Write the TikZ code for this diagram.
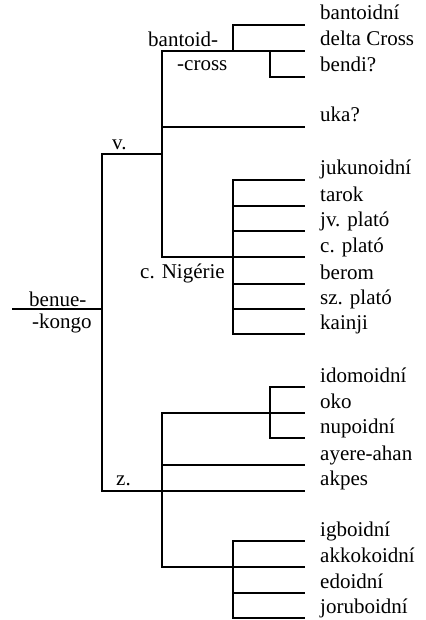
\documentclass[tikz,border=0pt]{standalone}
\usepackage{fontspec}
\setmainfont{Liberation Serif}
\begin{document}
\begin{tikzpicture}[x=1pt,y=-1pt,
  br/.style={line width=2.2pt,line cap=rect,line join=miter},
  lab/.style={anchor=base west,inner sep=0pt,font=\fontsize{21}{25}\selectfont}]
\useasboundingbox[fill=white] (0,0) rectangle (425,620);
% coordinates of junctions
\coordinate (r0) at (13,309);
\coordinate (r) at (102,309);
\coordinate (vtop) at (102,154);
\coordinate (zbot) at (102,491);
\coordinate (v) at (162,154);
\coordinate (vA) at (162,51);
\coordinate (vB) at (162,257);
\coordinate (bc1) at (233,25);
\coordinate (bc2) at (233,51);
\coordinate (bd1) at (270,51);
\coordinate (bd2) at (270,77);
\coordinate (uk) at (162,127);
\coordinate (cn1) at (233,180);
\coordinate (cn2) at (233,334);
\coordinate (zA) at (162,413);
\coordinate (zB) at (162,567);
\coordinate (zm) at (162,465);
\coordinate (io1) at (270,387);
\coordinate (io2) at (270,438);
\coordinate (ig1) at (233,541);
\coordinate (ig2) at (233,618);
% leaf ends
\foreach \n/\y in {a/25,b/51,c/77,d/127,e/180,f/206,g/231,h/257,i/284,j/309,k/334,
                   l/387,m/413,n/438,o/465,p/491,q/541,s/567,t/593,u/618}
  \coordinate (e\n) at (304,\y);
% branches
\draw[br] (r0) -- (r);
\draw[br] (vtop) -- (zbot);
\draw[br] (vtop) -- (v);
\draw[br] (zbot) -- (ep);
\draw[br] (vA) -- (vB);
\draw[br] (vA) -- (eb);
\draw[br] (bc2) -- (bc1) -- (ea);
\draw[br] (bd1) -- (bd2) -- (ec);
\draw[br] (uk) -- (ed);
\draw[br] (vB) -- (eh);
\draw[br] (cn1) -- (cn2);
\foreach \n in {e,f,g,i,j,k} \draw[br] (cn1 |- e\n) -- (e\n);
\draw[br] (zA) -- (zB);
\draw[br] (zA) -- (em);
\draw[br] (zm) -- (eo);
\draw[br] (zB) -- (es);
\draw[br] (io1) -- (io2);
\draw[br] (io1) -- (el);
\draw[br] (io2) -- (en);
\draw[br] (ig1) -- (ig2);
\foreach \n in {q,t,u} \draw[br] (ig1 |- e\n) -- (e\n);
% leaf labels
\foreach \n/\y/\t in {1/20/bantoidní,2/46/delta Cross,3/72/bendi?,4/122/uka?,
   5/175/jukunoidní,6/201/tarok,7/226/jv. plató,8/252/c. plató,9/279/berom,
   10/304/sz. plató,11/329/kainji,12/382/idomoidní,13/408/oko,14/433/nupoidní,
   15/460/ayere-ahan,16/485/akpes,17/536/igboidní,18/562/akkokoidní,
   19/588/edoidní,20/613/joruboidní}
  \node[lab] (t\n) at (320,\y) {\t};
% inner labels
\node[lab] (nbc1) at (148,47) {bantoid-};
\node[lab] (nbc2) at (177,71) {-cross};
\node[lab] (nv) at (112,150) {v.};
\node[lab] (ncn) at (140,278) {c. Nigérie};
\node[lab] (nbk1) at (29,306) {benue-};
\node[lab] (nbk2) at (32,328) {-kongo};
\node[lab] (nz) at (116,485) {z.};
\end{tikzpicture}
\end{document}
